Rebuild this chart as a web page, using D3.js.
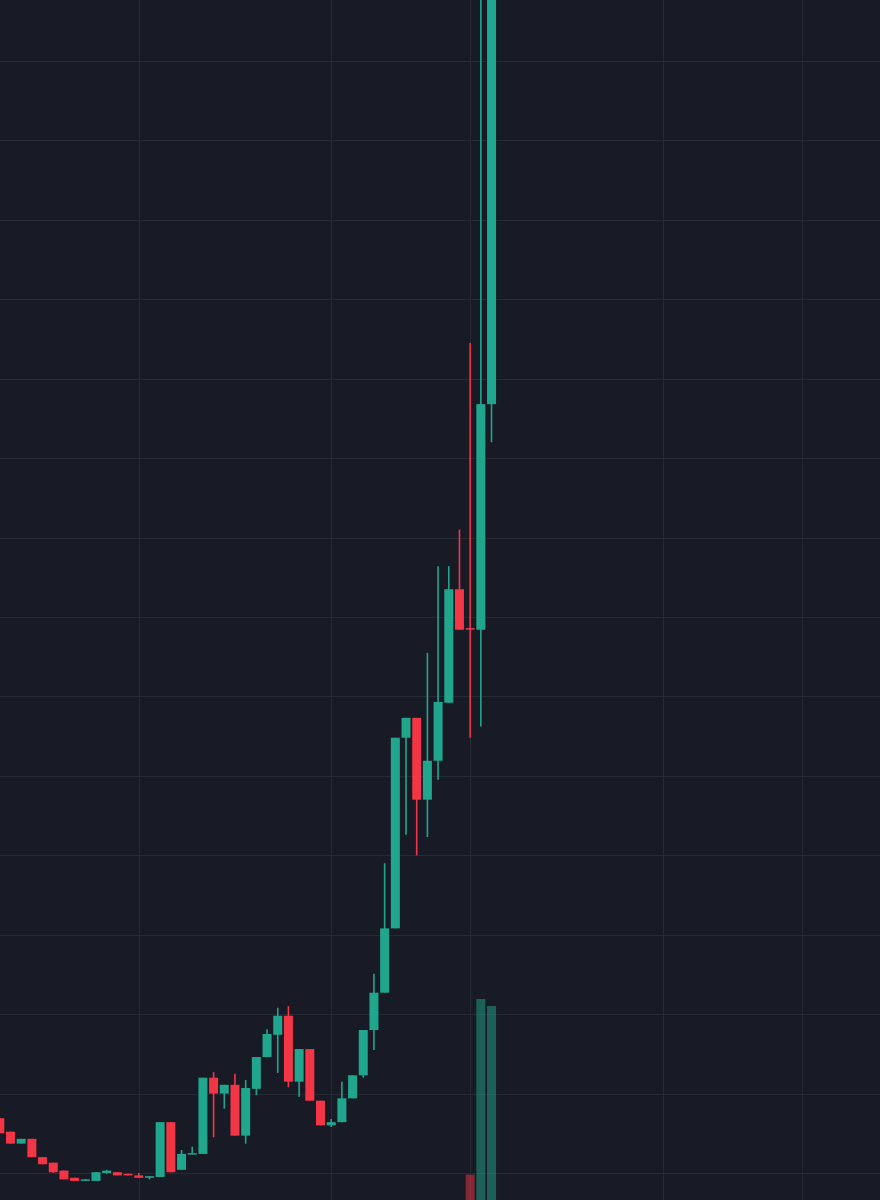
<!DOCTYPE html>
<html>
<head>
<meta charset="utf-8">
<script src="https://cdn.jsdelivr.net/npm/d3@7"></script>
<style>
  html, body { margin: 0; padding: 0; background: #181b26; overflow: hidden; }
  svg { display: block; }
</style>
</head>
<body>
<svg id="chart" width="880" height="1200"></svg>
<script>
// ---- data ----
const periods = d3.range(1, 48).map(String); // 47 consecutive bars
const opens  = [1.69,1.52,1.37,1.43,1.20,1.13,1.03,0.94,0.90,0.90,1.00,1.01,0.99,0.97,0.94,0.95,1.64,1.04,1.24,1.24,2.20,2.00,2.11,1.47,2.06,2.46,2.74,2.98,2.15,2.56,1.91,1.60,1.64,1.94,2.23,2.80,3.27,4.08,6.48,6.73,5.70,6.19,6.92,8.35,7.86,7.84,10.68];
const highs  = [1.69,1.52,1.43,1.43,1.20,1.13,1.03,0.94,0.92,1.01,1.04,1.01,0.99,1.00,0.96,1.64,1.64,1.29,1.33,2.20,2.27,2.11,2.25,2.17,2.46,2.81,3.08,3.10,2.56,2.56,1.91,1.68,2.15,2.23,2.80,3.51,4.90,6.48,6.73,6.73,7.55,8.64,8.64,9.10,11.45,18.50,19.00];
const lows   = [1.50,1.37,1.37,1.20,1.11,1.00,0.92,0.90,0.90,0.90,0.99,0.97,0.97,0.94,0.92,0.95,1.01,1.04,1.24,1.24,1.45,1.81,1.47,1.37,1.98,2.46,2.26,2.08,1.96,1.91,1.60,1.58,1.64,1.94,2.20,2.55,3.27,4.08,5.26,5.00,5.23,5.95,6.92,7.84,6.48,6.62,10.20];
const closes = [1.50,1.37,1.43,1.20,1.11,1.01,0.92,0.90,0.92,1.01,1.03,0.97,0.97,0.94,0.96,1.64,1.01,1.24,1.25,2.20,2.00,2.11,1.47,2.07,2.46,2.75,2.98,2.15,2.56,1.91,1.60,1.64,1.94,2.23,2.80,3.27,4.08,6.48,6.73,5.70,6.19,6.93,8.35,7.84,7.84,10.68,17.50];
const volumes = [6,5,3,6,4,4,4,3,2,4,2,3,2,3,2,10,9,4,3,11,9,5,9,8,6,6,8,10,6,8,6,3,5,5,8,9,12,13,12,12,10,11,12,11,24,100,97];
const yTicks = d3.range(1, 16);          // horizontal grid lines
const xTickIdx = [13, 31, 44, 62, 75];   // vertical grid lines (bar positions)

// ---- setup ----
const W = 880, H = 1200;
const bg = "#181b26", gridCol = "#262a35";
const upCol = "#1fa68c", downCol = "#f23645";

const svg = d3.select("#chart");
svg.append("rect").attr("width", W).attr("height", H).attr("fill", bg);

const step = 10.69;
const x = d3.scaleLinear().domain([0, 82]).range([-0.2, -0.2 + 82 * step]);
const y = d3.scaleLinear().domain([1, 15]).range([1173, 61]);
const v = d3.scaleLinear().domain([0, 100]).range([1230, 999]);

const bars = periods.map((p, i) => ({
  p, i, o: opens[i], h: highs[i], l: lows[i], c: closes[i], vol: volumes[i],
  up: closes[i] >= opens[i]
}));

// grid
const grid = svg.append("g");
grid.selectAll("line.h").data(yTicks).join("line")
  .attr("x1", 0).attr("x2", W)
  .attr("y1", d => Math.round(y(d)) + 0.5).attr("y2", d => Math.round(y(d)) + 0.5)
  .attr("stroke", gridCol).attr("stroke-width", 1);
grid.selectAll("line.v").data(xTickIdx).join("line")
  .attr("y1", 0).attr("y2", H)
  .attr("x1", d => Math.round(x(d)) + 0.5).attr("x2", d => Math.round(x(d)) + 0.5)
  .attr("stroke", gridCol).attr("stroke-width", 1);

// volume
const bodyW = 9;
svg.append("g").selectAll("rect").data(bars).join("rect")
  .attr("x", d => x(d.i) - bodyW / 2)
  .attr("width", bodyW)
  .attr("y", d => v(d.vol))
  .attr("height", d => v(0) - v(d.vol))
  .attr("fill", d => d.up ? upCol : downCol)
  .attr("fill-opacity", 0.5);

// wicks
const candles = svg.append("g");
candles.selectAll("line").data(bars).join("line")
  .attr("x1", d => x(d.i)).attr("x2", d => x(d.i))
  .attr("y1", d => y(d.h)).attr("y2", d => y(d.l))
  .attr("stroke", d => d.up ? upCol : downCol)
  .attr("stroke-width", 1.6);

// bodies
candles.selectAll("rect").data(bars).join("rect")
  .attr("x", d => x(d.i) - bodyW / 2)
  .attr("width", bodyW)
  .attr("y", d => y(Math.max(d.o, d.c)))
  .attr("height", d => Math.max(1.5, Math.abs(y(d.o) - y(d.c))))
  .attr("fill", d => d.up ? upCol : downCol);
</script>
</body>
</html>
